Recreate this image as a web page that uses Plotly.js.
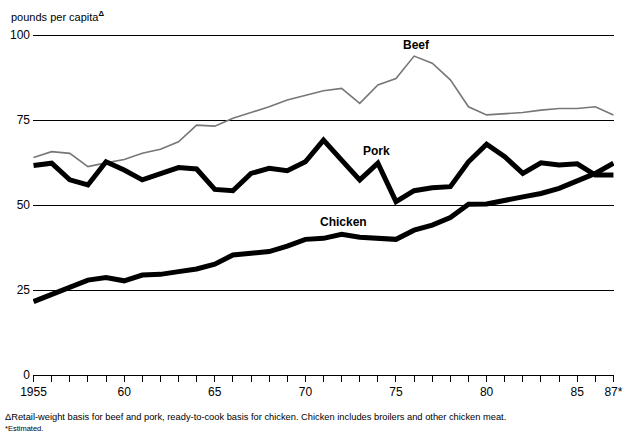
<!DOCTYPE html>
<html>
<head>
<meta charset="utf-8">
<script src="https://cdn.plot.ly/plotly-3.0.1.min.js"></script>
<style>
html,body{margin:0;padding:0;background:#fff;}
#chart{width:623px;height:432px;}
</style>
</head>
<body>
<div id="chart"></div>
<script>
var years = [1955,1956,1957,1958,1959,1960,1961,1962,1963,1964,1965,1966,1967,1968,1969,1970,1971,1972,1973,1974,1975,1976,1977,1978,1979,1980,1981,1982,1983,1984,1985,1986,1987];
var beef = [64.0,65.7,65.2,61.3,62.4,63.4,65.2,66.4,68.6,73.5,73.2,75.5,77.2,78.9,80.9,82.2,83.6,84.3,79.9,85.3,87.2,93.8,91.7,86.8,78.9,76.5,76.8,77.2,77.9,78.4,78.4,78.9,76.5];
var pork = [61.6,62.3,57.4,55.9,62.7,60.3,57.4,59.3,61.0,60.6,54.6,54.2,59.3,60.8,60.1,62.7,69.1,63.2,57.4,62.3,51.0,54.2,55.1,55.4,62.7,67.9,64.2,59.3,62.4,61.8,62.1,58.8,58.8];
var chicken = [21.6,23.8,25.7,27.9,28.7,27.7,29.4,29.6,30.4,31.2,32.6,35.3,35.8,36.3,37.9,39.9,40.2,41.4,40.5,40.2,39.9,42.6,44.1,46.3,50.2,50.3,51.2,52.4,53.4,54.9,57.1,59.3,62.3];
var xTickVals = [1955,1960,1965,1970,1975,1980,1985,1987];
var xTickText = ["1955","60","65","70","75","80","85","87*"];
var yTickVals = [0,25,50,75,100];
var seriesLabels = ["Beef","Pork","Chicken"];

var FONT = "Liberation Sans, Arial, Helvetica, sans-serif";

var traces = [
  {x: years, y: beef, mode: "lines", name: "Beef", line: {color: "#777", width: 1.6}, hoverinfo: "skip"},
  {x: years, y: pork, mode: "lines", name: "Pork", line: {color: "#000", width: 5}, hoverinfo: "skip"},
  {x: years, y: chicken, mode: "lines", name: "Chicken", line: {color: "#000", width: 5}, hoverinfo: "skip"}
];

var layout = {
  width: 623, height: 432,
  margin: {l: 33, r: 9, t: 34, b: 57},
  paper_bgcolor: "#fff", plot_bgcolor: "#fff",
  showlegend: false,
  font: {family: FONT, color: "#000", size: 12},
  xaxis: {
    range: [1954.97, 1987.03],
    tickvals: xTickVals, ticktext: xTickText,
    ticks: "outside", ticklen: 6, tickwidth: 1, tickcolor: "#000",
    minor: {dtick: 1, tick0: 1955, ticks: "outside", ticklen: 6, tickwidth: 1, tickcolor: "#000", showgrid: false},
    showgrid: false, zeroline: false,
    showline: true, linecolor: "#000", linewidth: 1,
    tickfont: {family: FONT, size: 12, color: "#000"},
    fixedrange: true
  },
  yaxis: {
    range: [0, 100.3],
    tickvals: yTickVals,
    ticks: "", showline: false, zeroline: false,
    showgrid: true, gridcolor: "#000", gridwidth: 1,
    tickfont: {family: FONT, size: 12, color: "#000"},
    ticklabelstandoff: 2,
    fixedrange: true
  },
  annotations: [
    {xref: "paper", yref: "paper", x: -0.042, y: 1.0, yshift: 18, xanchor: "left", yanchor: "middle", showarrow: false,
     text: "pounds per capita<sup><b>Δ</b></sup>", font: {family: FONT, size: 11, color: "#000"}},
    {x: 1976.15, y: 97.1, text: "<b>" + seriesLabels[0] + "</b>", showarrow: false, font: {family: FONT, size: 12, color: "#000"}},
    {x: 1973.9, y: 65.9, text: "<b>" + seriesLabels[1] + "</b>", showarrow: false, font: {family: FONT, size: 12, color: "#000"}},
    {x: 1972.1, y: 45.0, text: "<b>" + seriesLabels[2] + "</b>", showarrow: false, font: {family: FONT, size: 12, color: "#000"}},
    {xref: "paper", yref: "paper", x: -0.052, y: 0, yshift: -42, xanchor: "left", yanchor: "middle", showarrow: false,
     text: "ΔRetail-weight basis for beef and pork, ready-to-cook basis for chicken. Chicken includes broilers and other chicken meat.",
     font: {family: FONT, size: 9.3, color: "#000"}},
    {xref: "paper", yref: "paper", x: -0.052, y: 0, yshift: -53, xanchor: "left", yanchor: "middle", showarrow: false,
     text: "*Estimated.", font: {family: FONT, size: 7.5, color: "#000"}}
  ]
};

Plotly.newPlot("chart", traces, layout, {displayModeBar: false, staticPlot: true});
</script>
</body>
</html>
